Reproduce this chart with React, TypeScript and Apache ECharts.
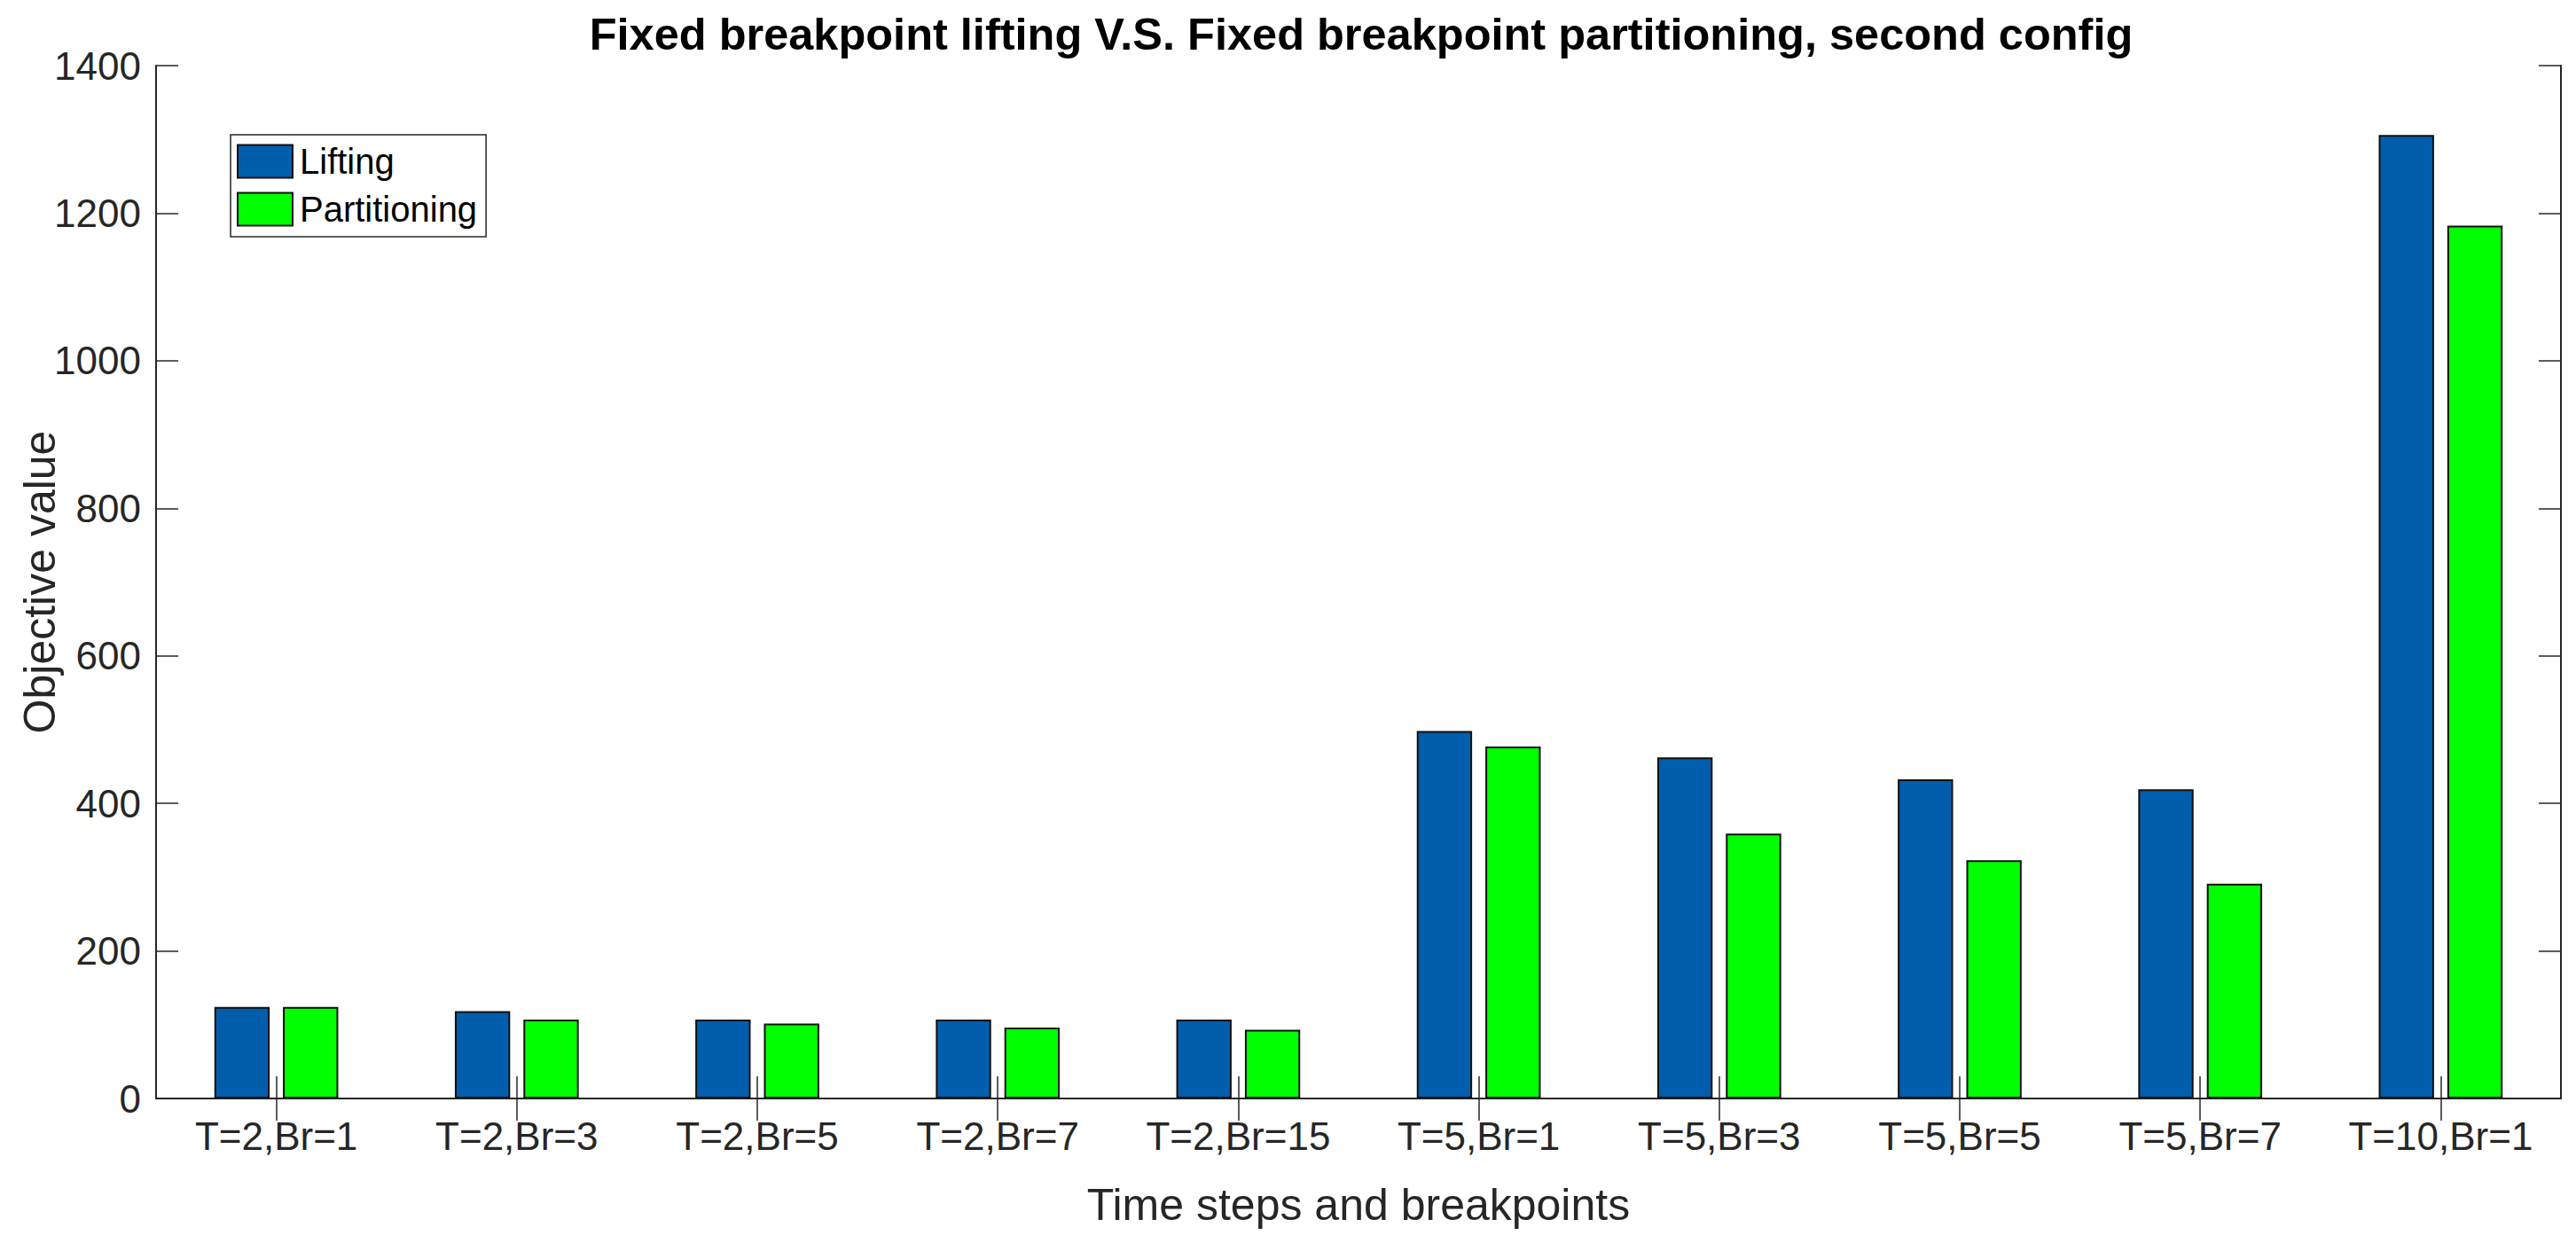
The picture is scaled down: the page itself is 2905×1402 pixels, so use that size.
import React, { useEffect, useRef } from "react";
import * as echarts from "echarts";

const categories = [
  "T=2,Br=1",
  "T=2,Br=3",
  "T=2,Br=5",
  "T=2,Br=7",
  "T=2,Br=15",
  "T=5,Br=1",
  "T=5,Br=3",
  "T=5,Br=5",
  "T=5,Br=7",
  "T=10,Br=1",
];
const lifting = [124, 118.5, 107, 107, 107, 498, 462.5, 432.5, 419, 1306];
const partitioning = [124, 107, 101.5, 96, 93, 477, 359, 323, 291, 1183];

const AXIS = "#262626";
const FONT = "'Liberation Sans', Arial, Helvetica, sans-serif";

export default function App() {
  const ref = useRef<HTMLDivElement>(null);
  useEffect(() => {
    if (!ref.current) return;
    const chart = echarts.init(ref.current, null, { renderer: "svg" });
    const tickStyle = { color: AXIS, width: 1.5 };
    const lineStyle = { color: AXIS, width: 2 };
    chart.setOption({
      animation: false,
      backgroundColor: "#ffffff",
      textStyle: { fontFamily: FONT },
      title: {
        text: "Fixed breakpoint lifting V.S. Fixed breakpoint partitioning, second config",
        left: 1530,
        textAlign: "center",
        top: 8,
        textStyle: { fontFamily: FONT, fontSize: 50.5, fontWeight: "bold", color: "#000" },
      },
      legend: {
        orient: "vertical",
        left: 260,
        top: 152,
        itemWidth: 62,
        itemHeight: 37,
        itemGap: 14,
        padding: [10, 10, 11, 7],
        borderColor: AXIS,
        borderWidth: 1.5,
        backgroundColor: "#fff",
        icon: "rect",
        textStyle: { fontFamily: FONT, fontSize: 40, color: "#000", lineHeight: 37, padding: [0, 0, 0, 3] },
        data: ["Lifting", "Partitioning"],
      },
      grid: { left: 176, right: 17, top: 74, bottom: 163, containLabel: false, outerBoundsMode: "none" },
      xAxis: [
        {
          type: "category",
          data: categories,
          position: "bottom",
          name: "Time steps and breakpoints",
          nameLocation: "middle",
          nameGap: 95,
          nameMoveOverlap: false,
          nameTextStyle: { fontFamily: FONT, fontSize: 50, color: AXIS },
          axisLine: { show: true, lineStyle },
          axisTick: { show: true, inside: true, length: 25, alignWithLabel: true, interval: 0, lineStyle: tickStyle },
          axisLabel: { interval: 0, margin: 20, fontFamily: FONT, fontSize: 44, color: AXIS },
          splitLine: { show: false },
        },
        {
          type: "category",
          data: categories,
          position: "top",
          axisLine: { show: true, lineStyle },
          axisTick: { show: true, inside: true, length: 25, alignWithLabel: true, interval: 0, lineStyle: tickStyle },
          axisLabel: { show: false },
          splitLine: { show: false },
        },
      ],
      yAxis: [
        {
          type: "value",
          min: 0,
          max: 1400,
          interval: 200,
          position: "left",
          name: "Objective value",
          nameLocation: "middle",
          nameGap: 106,
          nameMoveOverlap: false,
          nameTextStyle: { fontFamily: FONT, fontSize: 50, color: AXIS },
          axisLine: { show: true, lineStyle },
          axisTick: { show: true, inside: true, length: 25, lineStyle: tickStyle },
          axisLabel: { margin: 17, fontFamily: FONT, fontSize: 44, color: AXIS, formatter: (v: number) => String(v) },
          splitLine: { show: false },
        },
        {
          type: "value",
          min: 0,
          max: 1400,
          interval: 200,
          position: "right",
          axisLine: { show: true, lineStyle },
          axisTick: { show: true, inside: true, length: 25, lineStyle: tickStyle },
          axisLabel: { show: false },
          splitLine: { show: false },
        },
      ],
      series: [
        {
          name: "Lifting",
          type: "bar",
          xAxisIndex: 0,
          yAxisIndex: 0,
          data: lifting,
          barWidth: "23%",
          barGap: "24%",
          itemStyle: { color: "#005EAD", borderColor: "#111", borderWidth: 2 },
        },
        {
          name: "Partitioning",
          type: "bar",
          xAxisIndex: 0,
          yAxisIndex: 0,
          data: partitioning,
          barWidth: "23%",
          barGap: "24%",
          itemStyle: { color: "#00FF00", borderColor: "#111", borderWidth: 2 },
        },
      ],
    });
    return () => chart.dispose();
  }, []);
  return (
    <div
      ref={ref}
      style={{ position: "absolute", left: 0, top: 0, width: 2905, height: 1402 }}
    />
  );
}
